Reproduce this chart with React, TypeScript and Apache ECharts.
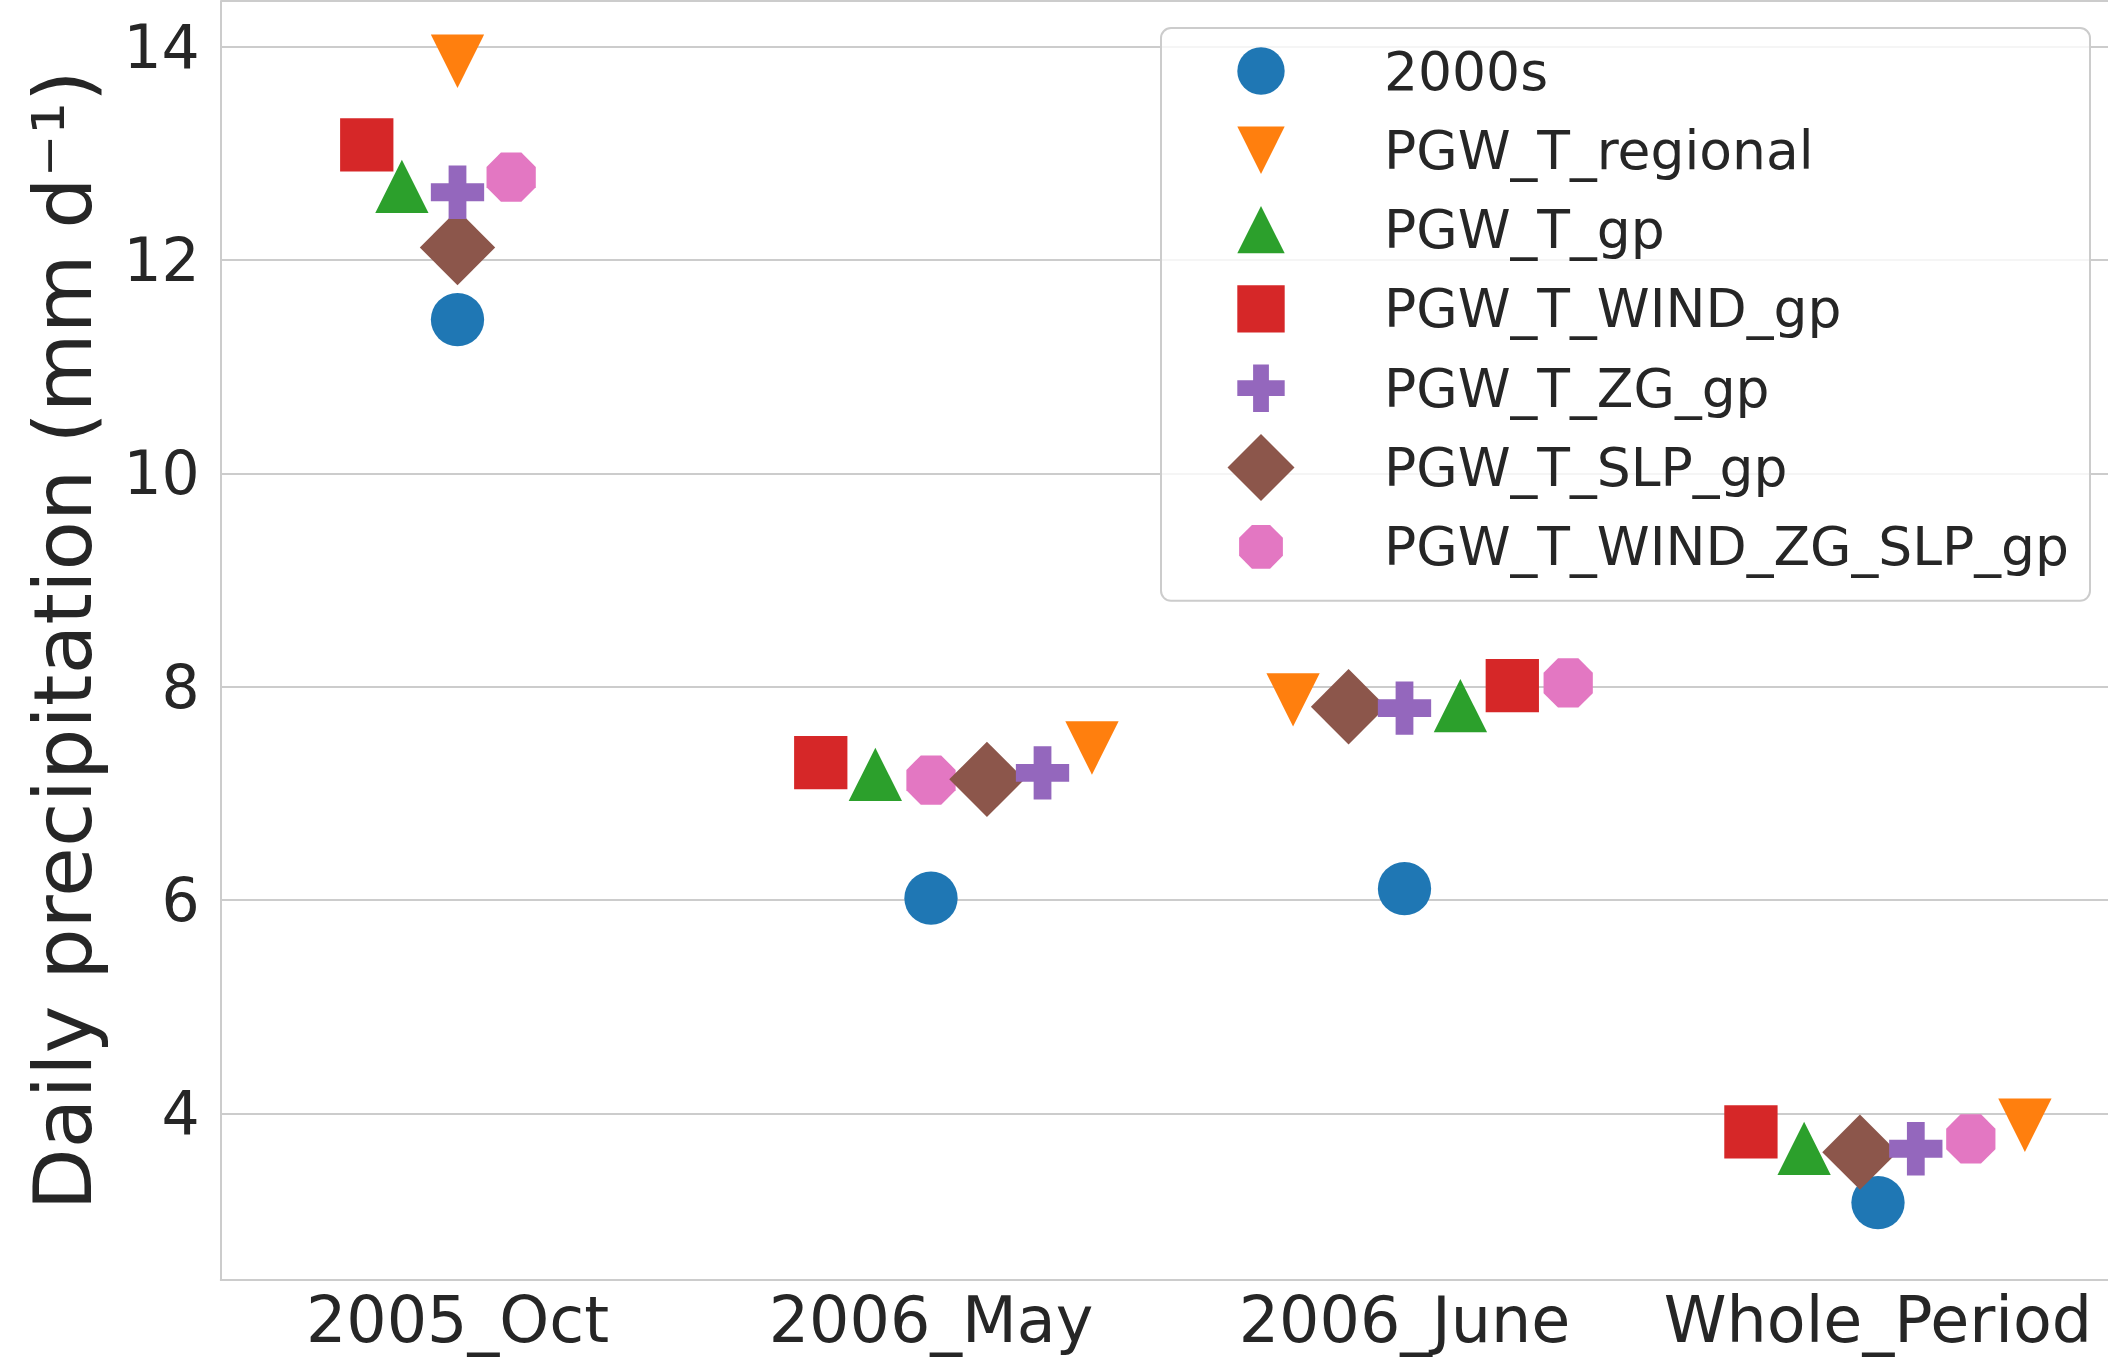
import React, { useEffect, useRef } from "react";
import * as echarts from "echarts";

// ---------- data ----------
const categories = ["2005_Oct", "2006_May", "2006_June", "Whole_Period"];
const seriesNames = [
  "2000s",
  "PGW_T_regional",
  "PGW_T_gp",
  "PGW_T_WIND_gp",
  "PGW_T_ZG_gp",
  "PGW_T_SLP_gp",
  "PGW_T_WIND_ZG_SLP_gp",
];
const v2000s = [11.441, 6.017, 6.106, 3.163];
const vRegional = [13.863, 7.425, 7.877, 3.888];
const vTgp = [12.691, 7.177, 7.822, 3.672];
const vTWindGp = [13.08, 7.287, 8.009, 3.827];
const vTZgGp = [12.635, 7.191, 7.798, 3.668];
const vTSlpGp = [12.117, 7.131, 7.812, 3.636];
const vTAllGp = [12.777, 7.124, 8.035, 3.76];
const seriesValues = [v2000s, vRegional, vTgp, vTWindGp, vTZgGp, vTSlpGp, vTAllGp];

// ---------- style ----------
const COLORS = ["#1f77b4", "#ff7f0e", "#2ca02c", "#d62728", "#9467bd", "#8c564b", "#e377c2"];
const FONT = "DejaVu Sans";
const TEXT = "#262626";
const GRIDC = "#cccccc";
const Y_MIN = 2.4375;
const Y_MAX = 14.428;
const MARKER = 53.3; // marker diameter in px (also swarm spacing)
const FRAME = MARKER * Math.SQRT2; // symbol box (diamond fills it)
const LEGEND_FRAME = 67;
// tie-break side for the swarm when two candidate positions are equally far from the centre
const TIE_PREFER_RIGHT = [false, true, false, false];

const B = "M0 0M100 100"; // invisible frame so every symbol shares one 100x100 box
const SYMBOLS = [
  `path://${B}M14.64 50A35.36 35.36 0 1 1 85.36 50A35.36 35.36 0 1 1 14.64 50Z`,
  `path://${B}M14.64 14.64L85.36 14.64L50 85.36Z`,
  `path://${B}M50 14.64L85.36 85.36L14.64 85.36Z`,
  `path://${B}M14.64 14.64L85.36 14.64L85.36 85.36L14.64 85.36Z`,
  `path://${B}M38.21 14.64L61.79 14.64L61.79 38.21L85.36 38.21L85.36 61.79L61.79 61.79L61.79 85.36L38.21 85.36L38.21 61.79L14.64 61.79L14.64 38.21L38.21 38.21Z`,
  `path://M50 0L100 50L50 100L0 50Z`,
  `path://${B}M36.47 17.33L63.53 17.33L82.67 36.47L82.67 63.53L63.53 82.67L36.47 82.67L17.33 63.53L17.33 36.47Z`,
];
const Z_LEVELS = [2, 2, 2, 2, 4, 3, 2];

// ---------- beeswarm (seaborn-like) ----------
type P = { x: number; y: number };
function beeswarm(pts: P[], d: number, preferRight: boolean): number[] {
  const order = pts.map((_, i) => i).sort((a, b) => pts[a].y - pts[b].y);
  const out: number[] = new Array(pts.length).fill(0);
  const swarm: P[] = [];
  const midline = pts[order[0]].x;
  for (const idx of order) {
    const p = pts[idx];
    if (swarm.length === 0) {
      swarm.push({ x: p.x, y: p.y });
      out[idx] = p.x;
      continue;
    }
    const neigh: P[] = [];
    for (let j = swarm.length - 1; j >= 0; j--) {
      if (p.y - swarm[j].y < d) neigh.push(swarm[j]);
      else break;
    }
    neigh.reverse();
    const cands: number[] = [p.x];
    let leftFirst = true;
    for (const q of neigh) {
      const dy = p.y - q.y;
      const dx = Math.sqrt(Math.max(d * d - dy * dy, 0)) * 1.05;
      const cl = q.x - dx;
      const cr = q.x + dx;
      if (leftFirst) cands.push(cl, cr);
      else cands.push(cr, cl);
      leftFirst = !leftFirst;
    }
    cands.sort((a, b) => {
      const da = Math.abs(a - midline);
      const db = Math.abs(b - midline);
      if (Math.abs(da - db) > 1e-6) return da - db;
      return preferRight ? b - a : 0;
    });
    let chosen = cands[0];
    if (neigh.length > 0) {
      for (const c of cands) {
        let ok = true;
        for (const q of neigh) {
          const ddx = q.x - c;
          const ddy = q.y - p.y;
          if (ddx * ddx + ddy * ddy < d * d) {
            ok = false;
            break;
          }
        }
        if (ok) {
          chosen = c;
          break;
        }
      }
    }
    swarm.push({ x: chosen, y: p.y });
    out[idx] = chosen;
  }
  return out;
}

function makeData(si: number, offsets: number[]) {
  return seriesValues[si].map((v, ci) => ({
    value: [ci, v],
    symbolOffset: [offsets[ci], 0],
  }));
}

export default function App() {
  const ref = useRef<HTMLDivElement>(null);
  useEffect(() => {
    const el = ref.current!;
    const chart = echarts.init(el, null, { renderer: "svg" });
    const zeros = categories.map(() => 0);
    const option: any = {
      animation: false,
      backgroundColor: "#ffffff",
      grid: {
        left: 220.75,
        top: 1,
        width: 1894,
        height: 1279,
        containLabel: false,
        outerBoundsMode: "none",
      },
      xAxis: {
        type: "category",
        data: categories,
        boundaryGap: true,
        axisLine: { show: true, lineStyle: { color: GRIDC, width: 2 } },
        axisTick: { show: false },
        splitLine: { show: false },
        axisLabel: {
          fontSize: 63.5,
          fontFamily: FONT,
          color: TEXT,
          margin: 8,
          interval: 0,
          hideOverlap: false,
        },
      },
      yAxis: {
        type: "value",
        min: Y_MIN,
        max: Y_MAX,
        splitNumber: 5,
        name: "Daily precipitation (mm d⁻¹)",
        nameLocation: "middle",
        nameGap: 117,
        nameTextStyle: { fontSize: 81, fontFamily: FONT, color: TEXT },
        axisLine: { show: true, lineStyle: { color: GRIDC, width: 2 } },
        axisTick: { show: false },
        splitLine: { show: true, lineStyle: { color: GRIDC, width: 2 } },
        axisLabel: {
          fontSize: 60,
          fontFamily: FONT,
          color: TEXT,
          margin: 21,
          showMinLabel: false,
          showMaxLabel: false,
          padding: [6, 0, 0, 0],
        },
      },
      legend: {
        show: true,
        type: "plain",
        orient: "vertical",
        left: 1161,
        top: 28,
        itemWidth: LEGEND_FRAME,
        itemHeight: LEGEND_FRAME,
        itemGap: 12.3,
        padding: [9.5, 21, 20.5, 66.5],
        backgroundColor: "rgba(255,255,255,0.8)",
        borderColor: GRIDC,
        borderWidth: 2,
        borderRadius: 10,
        selectedMode: false,
        textStyle: {
          fontSize: 53.5,
          fontFamily: FONT,
          color: TEXT,
          padding: [0, 0, 0, 84.5],
        },
        data: seriesNames.map((n, i) => ({ name: n, icon: SYMBOLS[i] })),
        z: 10,
      },
      series: seriesNames.map((n, si) => ({
        type: "scatter",
        name: n,
        symbol: SYMBOLS[si],
        symbolSize: FRAME,
        z: Z_LEVELS[si],
        itemStyle: { color: COLORS[si], opacity: 1 },
        emphasis: { disabled: true },
        data: makeData(si, zeros),
      })),
    };
    chart.setOption(option);

    const offsets = seriesValues.map(() => categories.map(() => 0));
    categories.forEach((_, ci) => {
      const pts: P[] = seriesValues.map((vals) => {
        const p = chart.convertToPixel({ gridIndex: 0 } as any, [ci, vals[ci]]) as number[];
        return { x: p[0], y: -p[1] };
      });
      const xs = beeswarm(pts, MARKER, TIE_PREFER_RIGHT[ci]);
      xs.forEach((x, si) => {
        offsets[si][ci] = x - pts[si].x;
      });
    });
    chart.setOption({
      series: seriesNames.map((_, si) => ({ data: makeData(si, offsets[si]) })),
    });

    return () => chart.dispose();
  }, []);
  return (
    <div
      ref={ref}
      style={{ position: "fixed", left: 0, top: 0, width: 2108, height: 1358, background: "#fff" }}
    />
  );
}
